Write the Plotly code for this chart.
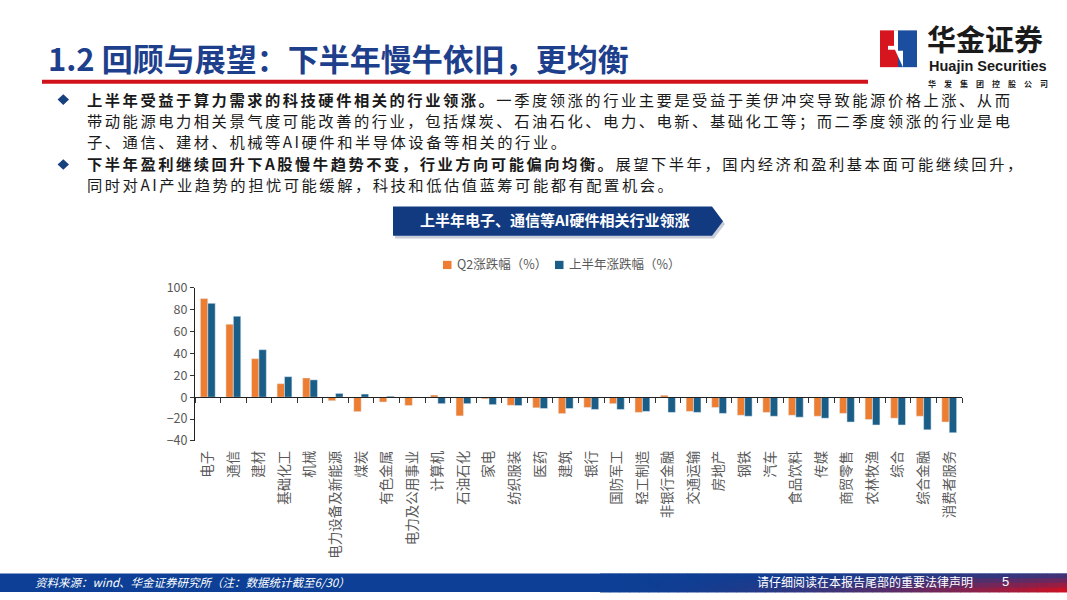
import plotly.graph_objects as go

W, H = 1067, 600
FONT = "Noto Sans CJK SC"

# 中信一级行业，按上半年涨跌幅排序
industries = ["电子", "通信", "建材", "基础化工", "机械", "电力设备及新能源", "煤炭", "有色金属",
              "电力及公用事业", "计算机", "石油石化", "家电", "纺织服装", "医药", "建筑", "银行",
              "国防军工", "轻工制造", "非银行金融", "交通运输", "房地产", "钢铁", "汽车", "食品饮料",
              "传媒", "商贸零售", "农林牧渔", "综合", "综合金融", "消费者服务"]
q2_change = [90.3, 66.8, 35.3, 12.4, 17.6, -3.2, -13.2, -4.4, -7.6, 2.0, -17.1, -1.5, -7.4, -9.7, -15.0,
             -9.4, -5.9, -13.9, 1.8, -13.0, -9.4, -16.5, -13.9, -16.5, -17.4, -14.8, -20.4, -19.2, -17.4, -22.7]
h1_change = [85.9, 74.1, 43.5, 18.8, 15.9, 3.5, 2.9, 0.9, 0.2, -5.9, -5.9, -6.8, -7.6, -10.3, -10.3,
             -11.2, -11.2, -13.0, -13.9, -13.9, -14.8, -17.4, -17.4, -18.3, -19.2, -22.7, -25.4, -25.4, -29.8, -32.5]
y_ticks = [-40, -20, 0, 20, 40, 60, 80, 100]

ORANGE = "#ED7D31"
BLUE = "#1A5D87"
NAVY = "#1E3F8C"
GRAY = "#595959"
INK = "#1a1a1a"
BODY_SIZE = 15.3


# slide pixel -> paper fraction
def px(x):
    return x / W


def py(y):
    return 1 - y / H


def blend(c1, c2, t):
    a = [int(c1[i:i + 2], 16) for i in (1, 3, 5)]
    b = [int(c2[i:i + 2], 16) for i in (1, 3, 5)]
    return "#" + "".join("%02x" % round(a[k] + (b[k] - a[k]) * t) for k in range(3))


def label(x, y, text, size, color=INK, anchor="left", **font_kw):
    # CJK glyphs sit a little low in plotly's text box, nudge them up
    return dict(x=px(x), y=py(y - 0.1 * size), xref="paper", yref="paper", xanchor=anchor, yanchor="middle",
                align=anchor if anchor != "center" else "center",
                text=text, showarrow=False, font=dict(family=font_kw.pop("family", FONT), size=size,
                                                      color=color, **font_kw))


def poly(points, color, layer="above"):
    path = "M " + " L ".join("%f %f" % (px(x), py(y)) for x, y in points) + " Z"
    return dict(type="path", xref="paper", yref="paper", path=path, fillcolor=color, line_width=0, layer=layer)


def box(x0, y0, x1, y1, color, layer="above"):
    return dict(type="rect", xref="paper", yref="paper", x0=px(x0), x1=px(x1), y0=py(y1), y1=py(y0),
                fillcolor=color, line_width=0, layer=layer)


fig = go.Figure()
fig.add_trace(go.Bar(x=industries, y=q2_change, name="Q2涨跌幅（%）", marker_color=ORANGE, showlegend=False))
fig.add_trace(go.Bar(x=industries, y=h1_change, name="上半年涨跌幅（%）", marker_color=BLUE, showlegend=False))
# invisible trace so the zero-line axis has the same categories
fig.add_trace(go.Scatter(x=industries, y=[0] * len(industries), xaxis="x2", mode="markers",
                         marker=dict(opacity=0), showlegend=False, hoverinfo="skip"))

y_dom = [py(444), py(286)]
zero_pos = y_dom[0] + (0 - y_ticks[0]) / (y_ticks[-1] - y_ticks[0]) * (y_dom[1] - y_dom[0])

shapes = []
annotations = []

# title and red rule
annotations.append(label(46, 51, "<b>1.2 回顾与展望：下半年慢牛依旧，更均衡</b>", 31, NAVY))
shapes.append(box(42, 71, 868, 75, "#D0121B"))

# logo
shapes.append(box(880, 20, 898, 58, "#D7151F"))
shapes.append(box(898, 20, 917, 58, "#1C4EA0"))
shapes.append(poly([(894, 20), (898, 20), (898, 41), (903, 41), (903, 58), (894, 38)], "white"))
shapes.append(box(888, 36, 898, 40, "white"))
annotations.append(label(925, 31, "<b>华金证券</b>", 29))
annotations.append(label(927, 58, "<b>Huajin Securities</b>", 14.5, family="Liberation Sans"))
annotations.append(label(1050, 75.5, "<b>华　发　集　团　控　股　公　司</b>", 8, anchor="right"))

# bullet text
lines = [
    (92, "<b>上半年受益于算力需求的科技硬件相关的行业领涨。</b>一季度领涨的行业主要是受益于美伊冲突导致能源价格上涨、从而"),
    (114, "带动能源电力相关景气度可能改善的行业，包括煤炭、石油石化、电力、电新、基础化工等；而二季度领涨的行业是电"),
    (136, "子、通信、建材、机械等AI硬件和半导体设备等相关的行业。"),
    (158.5, "<b>下半年盈利继续回升下A股慢牛趋势不变，行业方向可能偏向均衡。</b>展望下半年，国内经济和盈利基本面可能继续回升，"),
    (180.5, "同时对AI产业趋势的担忧可能缓解，科技和低估值蓝筹可能都有配置机会。"),
]
for yy, txt in lines:
    annotations.append(label(85, yy, txt, BODY_SIZE))
for yy in (91.5, 158.5):
    shapes.append(poly([(63.3, yy - 5.5), (69, yy), (63.3, yy + 5.5), (57.6, yy)], "#17407E"))

# chart banner
shapes.append(poly([(395, 205), (714, 205), (725, 220), (714, 235), (395, 235)], "#C8CDD8"))
shapes.append(poly([(393, 202), (712, 202), (723, 217), (712, 232), (393, 232)], "#123A80"))
annotations.append(label(555, 217, "<b>上半年电子、通信等AI硬件相关行业领涨</b>", 15, "white", anchor="center"))

# legend drawn by hand so the swatches sit tight against the labels
for x0, color, name in ((443, ORANGE, "Q2涨跌幅（%）"), (555, BLUE, "上半年涨跌幅（%）")):
    shapes.append(box(x0, 258, x0 + 8.5, 266.5, color))
    annotations.append(label(x0 + 12, 262.5, name, 12.5, GRAY))

# footer bar with blue-to-red fade on the right
FOOT_TOP, FOOT_BOT = 581, 600
shapes.append(box(0, FOOT_TOP, W, FOOT_BOT, "#0C3F95", layer="below"))
n_strips = 48
band = (FOOT_BOT - FOOT_TOP) / 4
for i in range(n_strips):
    x0 = 600 + i * (W - 600) / n_strips
    x1 = 600 + (i + 1) * (W - 600) / n_strips + 0.5
    t = (i + 1) / n_strips
    for r in range(4):
        y0 = FOOT_TOP + r * band
        shapes.append(box(x0, y0, x1, y0 + band + 0.5,
                          blend("#0C3F95", "#C0142C", t * t * (0.3 + 0.25 * r)), layer="below"))
annotations.append(label(33, 590.5, "资料来源：wind、华金证券研究所（注：数据统计截至6/30）", 11.5, "white", style="italic"))
annotations.append(label(975, 590.5, "请仔细阅读在本报告尾部的重要法律声明", 12, "white", anchor="right"))
annotations.append(label(1005, 590.5, "5", 13, "white", anchor="center", family="Liberation Sans"))

fig.update_layout(
    width=W, height=H,
    margin=dict(l=0, r=0, t=0, b=0),
    paper_bgcolor="white", plot_bgcolor="white",
    font=dict(family=FONT, size=12, color=GRAY),
    barmode="group", bargap=0.42, bargroupgap=0,
    showlegend=False,
    xaxis=dict(domain=[px(195), px(962)], anchor="y", type="category", categoryorder="array",
               categoryarray=industries, range=[-0.5, len(industries) - 0.5],
               showline=False, ticks="", tickangle=-90, showgrid=False, ticklabelstandoff=6,
               tickfont=dict(size=13.5, color=GRAY)),
    xaxis2=dict(domain=[px(195), px(962)], overlaying="x", anchor="free", position=zero_pos,
                matches="x", type="category", showline=True, linecolor="#222", linewidth=1,
                ticks="outside", tickson="boundaries", ticklen=5, tickcolor="#333",
                showticklabels=False, showgrid=False),
    yaxis=dict(domain=y_dom, range=[y_ticks[0], y_ticks[-1]], tickvals=y_ticks,
               showline=True, linecolor="#222", linewidth=1, ticks="outside", ticklen=4, tickcolor="#333",
               showgrid=False, zeroline=False, tickfont=dict(size=12.5, color=GRAY)),
    shapes=shapes,
    annotations=annotations,
)

# pin the slide to the top-left corner and open up the body text a little, like the deck does
post = """
document.body.style.margin = '0';
var gd = document.getElementById('{plot_id}');
gd.style.position = 'fixed'; gd.style.top = '0'; gd.style.left = '0';
document.querySelectorAll('text.annotation-text').forEach(function (t) {
    if (t.style.fontSize === '%spx') { t.style.letterSpacing = '2.5px'; }
});
""" % BODY_SIZE

fig.write_html("out.html", config={"displayModeBar": False}, post_script=post)
